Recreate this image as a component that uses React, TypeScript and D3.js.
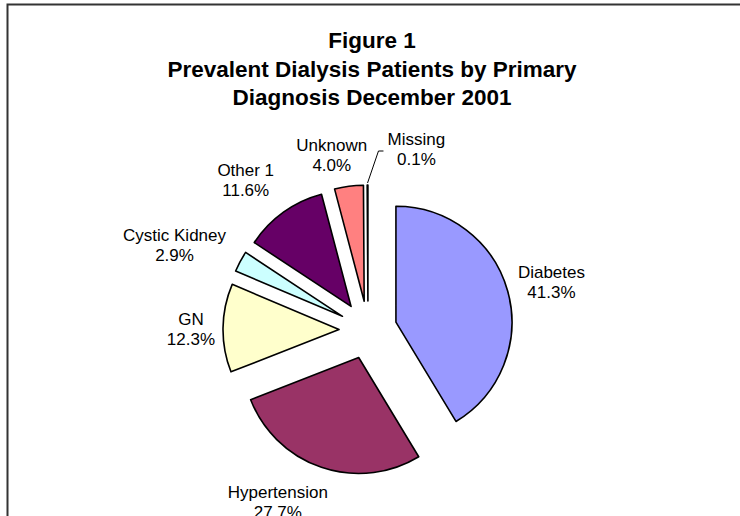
import React, { useEffect } from "react";
import * as d3 from "d3";

// diagnosis categories and their shares (%)
const categories = ["Diabetes", "Hypertension", "GN", "Cystic Kidney", "Other 1", "Unknown", "Missing"];
const shares = [41.3, 27.7, 12.3, 2.9, 11.6, 4.0, 0.1];
const sliceColors = ["#9999FF", "#993366", "#FFFFCC", "#CCFFFF", "#660066", "#FF8080", "#0066CC"];
const titleLines = ["Figure 1", "Prevalent Dialysis Patients by Primary", "Diagnosis December 2001"];

const W = 740;
const H = 516;
const cx = 368;
const cy = 330;
const radius = 116;
const explode = 29;
const labelGap = 8;
const fontSize = 17;
const lineH = 20;

// hand tuned shifts so the labels sit where Excel put them
const labelNudge: Record<string, [number, number]> = {
  Diabetes: [2, -2],
  Hypertension: [-24, 8],
  GN: [-2, 1],
  "Cystic Kidney": [-8, -3],
  "Other 1": [-15, -9],
  Unknown: [-12, -4],
  Missing: [49, -8],
};

const App: React.FC = () => {
  useEffect(() => {
    document.body.style.margin = "0";
  }, []);

  const pie = d3
    .pie<number>()
    .sort(null)
    .value((d) => d)
    .startAngle(0)
    .endAngle(2 * Math.PI);
  const arcs = pie(shares);
  const arc = d3.arc<d3.PieArcDatum<number>>().innerRadius(0).outerRadius(radius);

  // rough text width for label box placement
  const measure = (s: string) => s.length * fontSize * 0.52;

  return (
    <svg width={W} height={H} style={{ display: "block", background: "#fff" }}>
      <rect x={7.5} y={4.5} width={800} height={600} fill="#fff" stroke="#333" strokeWidth={2} />
      <g fontFamily="'Liberation Sans', Arial, sans-serif" fontWeight="bold" fontSize={22.5} textAnchor="middle" fill="#000">
        {titleLines.map((t, i) => (
          <text key={t} x={372} y={48 + i * 28.5}>
            {t}
          </text>
        ))}
      </g>
      <g transform={`translate(${cx},${cy})`}>
        {arcs.map((a, i) => {
          const mid = (a.startAngle + a.endAngle) / 2;
          const dx = Math.sin(mid) * explode;
          const dy = -Math.cos(mid) * explode;
          return (
            <path
              key={categories[i]}
              d={arc(a) || ""}
              transform={`translate(${dx},${dy})`}
              fill={sliceColors[i]}
              stroke="#000"
              strokeWidth={1.6}
              strokeLinejoin="round"
            />
          );
        })}
      </g>
      <g fontFamily="'Liberation Sans', Arial, sans-serif" fontSize={fontSize} textAnchor="middle" fill="#000">
        {arcs.map((a, i) => {
          const name = categories[i];
          const mid = (a.startAngle + a.endAngle) / 2;
          const s = Math.sin(mid);
          const c = -Math.cos(mid);
          const R = explode + radius + labelGap;
          const pct = `${shares[i].toFixed(1)}%`;
          const w = Math.max(measure(name), measure(pct));
          const [nx, ny] = labelNudge[name] || [0, 0];
          const lx = cx + s * R + s * (w / 2) + nx;
          const ly = cy + c * R + c * lineH + ny;
          let leader = null;
          if (name === "Missing") {
            const ex = cx + s * (explode + radius);
            const ey = cy + c * (explode + radius) - 2;
            const tx = lx - measure(name) / 2 - 2;
            const ty = ly + 2;
            leader = (
              <polyline
                points={`${ex},${ey} ${tx - 5},${ty} ${tx},${ty}`}
                fill="none"
                stroke="#000"
                strokeWidth={1}
              />
            );
          }
          return (
            <g key={name}>
              {leader}
              <text x={lx} y={ly - 4}>
                {name}
              </text>
              <text x={lx} y={ly - 4 + lineH}>
                {pct}
              </text>
            </g>
          );
        })}
      </g>
    </svg>
  );
};

export default App;
